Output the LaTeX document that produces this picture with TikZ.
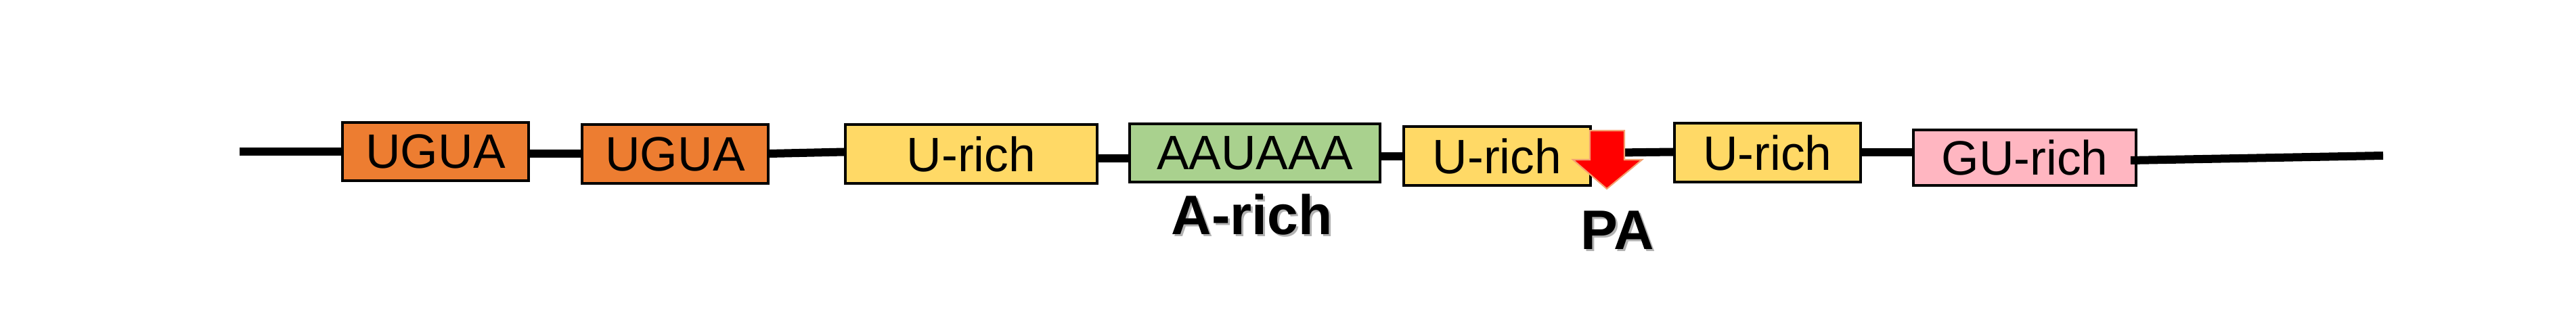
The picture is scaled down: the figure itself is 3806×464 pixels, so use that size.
\documentclass[tikz,border=0pt]{standalone}
\usepackage{fontspec}
\setmainfont{Liberation Sans}
\usetikzlibrary{calc}
\definecolor{boxorange}{HTML}{ED7D31}
\definecolor{boxyellow}{HTML}{FFD966}
\definecolor{boxgreen}{HTML}{A9D18E}
\definecolor{boxpink}{HTML}{FFB6C1}
\definecolor{arrowred}{HTML}{FF0000}
\definecolor{arrowedge}{HTML}{F4A070}
\begin{document}
\begin{tikzpicture}[x=0.01cm,y=-0.01cm,
  elem/.style={draw=black,line width=1pt,inner sep=0pt,anchor=center,
    font=\fontsize{20.3}{24}\selectfont},
  rna/.style={line width=0.12cm,black},
  label/.style={font=\bfseries\fontsize{23.4}{28}\selectfont,anchor=base,inner sep=0pt},
  lshadow/.style={label,text=black!30}]
\useasboundingbox (0,0) rectangle (3806,464);
% RNA line ends
\coordinate (start) at (354,224);
\coordinate (finish) at (3521,230);
% elements
\node[elem,fill=boxorange,minimum width=2.75cm,minimum height=0.86cm] (ugua1) at (643.5,224) {UGUA};
\node[elem,fill=boxorange,minimum width=2.75cm,minimum height=0.87cm] (ugua2) at (997.5,227.5) {UGUA};
\node[elem,fill=boxyellow,minimum width=3.72cm,minimum height=0.87cm] (urich1) at (1435,227.5) {U-rich};
\node[elem,fill=boxgreen,minimum width=3.70cm,minimum height=0.86cm] (aauaaa) at (1854,226) {AAUAAA};
\node[elem,fill=boxyellow,minimum width=2.76cm,minimum height=0.87cm] (urich2) at (2212,230.5) {U-rich};
\node[elem,fill=boxyellow,minimum width=2.75cm,minimum height=0.87cm] (urich3) at (2611.5,225.5) {U-rich};
\node[elem,fill=boxpink,minimum width=3.29cm,minimum height=0.82cm] (gurich) at (2991.5,233) {GU-rich};
% RNA line
\draw[rna] (start) -- (ugua1.west);
\draw[rna] (ugua1.east |- {(0,227)}) -- (ugua2.west |- {(0,227)});
\draw[rna] (ugua2.east |- {(0,227)}) -- (urich1.west |- {(0,224.5)});
\draw[rna] (urich1.east |- {(0,234)}) -- (aauaaa.west |- {(0,234)});
\draw[rna] (aauaaa.east |- {(0,231)}) -- (urich2.west |- {(0,231)});
\draw[rna] (urich2.east |- {(0,226)}) -- (urich3.west |- {(0,224.5)});
\draw[rna] (urich3.east |- {(0,225)}) -- (gurich.west |- {(0,225)});
\draw[rna] ($(gurich.east |- {(0,237)})+(-10,0)$) -- (finish);
% cleavage arrow
\draw[fill=arrowred,draw=arrowedge,line width=0.6pt]
  (2349,193) -- (2400,193) -- (2400,236) -- (2426,236) -- (2374,279)
  -- (2324,236) -- (2349,236) -- cycle;
% labels
\node[lshadow] (arichshadow) at (1852.5,350) {A-rich};
\node[label] (arich) at (1849.5,347) {A-rich};
\node[lshadow] (pashadow) at (2393,371) {PA};
\node[label] (pa) at (2390,368) {PA};
\end{tikzpicture}
\end{document}
